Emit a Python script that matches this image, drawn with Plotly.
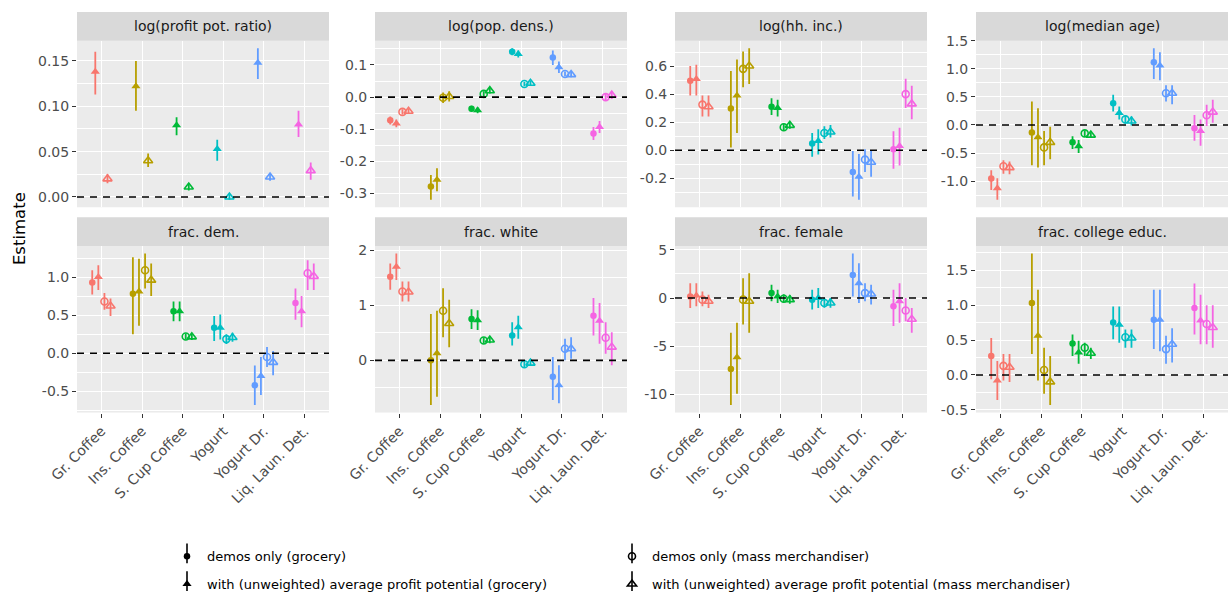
import plotly.graph_objects as go

# ---------------- data ----------------
categories = ["Gr. Coffee", "Ins. Coffee", "S. Cup Coffee", "Yogurt", "Yogurt Dr.", "Liq. Laun. Det."]
series_names = [
    "demos only (grocery)",
    "with (unweighted) average profit potential (grocery)",
    "demos only (mass merchandiser)",
    "with (unweighted) average profit potential (mass merchandiser)",
]
panel_titles = ["log(profit pot. ratio)", "log(pop. dens.)", "log(hh. inc.)", "log(median age)",
                "frac. dem.", "frac. white", "frac. female", "frac. college educ."]
colors = ["#F8766D", "#B79F00", "#00BA38", "#00BFC4", "#619CFF", "#F564E3"]
NA = [None] * 6

# series order inside each panel: demos (grocery), with (grocery), demos (mass), with (mass)
profit_est = [NA, [0.138, 0.122, 0.079, 0.053, 0.148, 0.080], NA, [0.020, 0.040, 0.011, 0.000, 0.022, 0.029]]
profit_lo = [NA, [0.113, 0.095, 0.068, 0.040, 0.130, 0.066], NA, [0.015, 0.033, 0.007, -0.003, 0.018, 0.019]]
profit_hi = [NA, [0.160, 0.150, 0.088, 0.063, 0.164, 0.095], NA, [0.025, 0.048, 0.015, 0.003, 0.026, 0.038]]

dens_est = [[-0.072, -0.278, -0.036, 0.141, 0.123, -0.113], [-0.082, -0.257, -0.041, 0.134, 0.093, -0.093],
            [-0.046, -0.002, 0.010, 0.041, 0.072, 0.000], [-0.044, 0.002, 0.020, 0.043, 0.070, 0.006]]
dens_lo = [[-0.085, -0.319, -0.045, 0.130, 0.100, -0.133], [-0.094, -0.293, -0.050, 0.123, 0.075, -0.112],
           [-0.054, -0.018, 0.002, 0.034, 0.064, -0.012], [-0.052, -0.014, 0.011, 0.036, 0.062, -0.006]]
dens_hi = [[-0.060, -0.242, -0.027, 0.152, 0.145, -0.093], [-0.070, -0.221, -0.032, 0.145, 0.111, -0.074],
           [-0.038, 0.014, 0.018, 0.048, 0.080, 0.012], [-0.036, 0.018, 0.029, 0.050, 0.078, 0.018]]

inc_est = [[0.495, 0.297, 0.309, 0.047, -0.155, 0.007], [0.507, 0.39, 0.30, 0.065, -0.19, 0.03],
           [0.325, 0.58, 0.163, 0.123, -0.067, 0.40], [0.31, 0.60, 0.177, 0.13, -0.086, 0.33]]
inc_lo = [[0.39, 0.02, 0.25, -0.046, -0.33, -0.132], [0.39, 0.123, 0.24, -0.03, -0.353, -0.11],
          [0.24, 0.449, 0.138, 0.08, -0.155, 0.30], [0.24, 0.472, 0.152, 0.09, -0.19, 0.22]]
inc_hi = [[0.60, 0.565, 0.37, 0.123, -0.005, 0.135], [0.61, 0.646, 0.36, 0.15, -0.028, 0.16],
          [0.39, 0.704, 0.188, 0.17, 0.007, 0.51], [0.39, 0.727, 0.202, 0.18, -0.005, 0.46]]

age_est = [[-0.954, -0.135, -0.31, 0.39, 1.12, -0.06], [-1.13, -0.22, -0.38, 0.216, 1.06, -0.105],
           [-0.737, -0.40, -0.15, 0.10, 0.567, 0.175], [-0.76, -0.31, -0.18, 0.07, 0.567, 0.23]]
age_lo = [[-1.158, -0.72, -0.43, 0.24, 0.82, -0.28], [-1.333, -0.76, -0.50, 0.10, 0.80, -0.37],
          [-0.87, -0.72, -0.20, 0.02, 0.42, -0.02], [-0.88, -0.61, -0.23, -0.01, 0.37, 0.04]]
age_hi = [[-0.807, 0.42, -0.20, 0.54, 1.37, 0.18], [-0.95, 0.30, -0.27, 0.33, 1.30, 0.10],
          [-0.63, -0.105, -0.10, 0.18, 0.71, 0.36], [-0.65, -0.03, -0.13, 0.15, 0.71, 0.45]]

dem_est = [[0.93, 0.78, 0.55, 0.336, -0.42, 0.66], [1.0, 0.81, 0.55, 0.336, -0.30, 0.55],
           [0.68, 1.09, 0.22, 0.185, -0.05, 1.05], [0.62, 0.96, 0.215, 0.207, -0.12, 1.01]]
dem_lo = [[0.77, 0.25, 0.42, 0.16, -0.68, 0.44], [0.83, 0.36, 0.42, 0.18, -0.55, 0.34],
          [0.57, 0.85, 0.18, 0.12, -0.18, 0.83], [0.49, 0.75, 0.175, 0.15, -0.29, 0.83]]
dem_hi = [[1.09, 1.26, 0.68, 0.49, -0.16, 0.85], [1.155, 1.24, 0.68, 0.51, -0.05, 0.75],
          [0.79, 1.31, 0.26, 0.25, 0.08, 1.22], [0.72, 1.18, 0.255, 0.27, 0.03, 1.18]]

white_est = [[1.52, 0.0, 0.75, 0.45, -0.30, 0.81], [1.70, 0.13, 0.73, 0.60, -0.45, 0.72],
             [1.25, 0.90, 0.36, -0.07, 0.21, 0.41], [1.24, 0.67, 0.37, -0.05, 0.21, 0.24]]
white_lo = [[1.28, -0.81, 0.57, 0.27, -0.72, 0.45], [1.46, -0.66, 0.55, 0.39, -0.78, 0.30],
            [1.07, 0.42, 0.30, -0.12, 0.0, 0.12], [1.07, 0.24, 0.31, -0.10, 0.03, -0.09]]
white_hi = [[1.76, 0.84, 0.93, 0.69, 0.06, 1.13], [1.94, 0.90, 0.91, 0.81, -0.09, 1.04],
            [1.43, 1.31, 0.42, -0.02, 0.39, 0.69], [1.43, 1.10, 0.43, 0.00, 0.42, 0.51]]

female_est = [[0.17, -7.36, 0.51, -0.17, 2.4, -0.86], [0.27, -6.16, 0.17, 0.0, 1.54, -0.34],
              [-0.17, -0.17, -0.07, -0.51, 0.51, -1.3], [-0.34, -0.34, -0.17, -0.51, 0.41, -2.2]]
female_lo = [[-1.03, -11.1, -0.34, -1.2, 0.17, -2.9], [-0.86, -9.93, -0.51, -1.03, -0.51, -2.57],
             [-0.86, -2.74, -0.5, -1.0, -0.34, -2.4], [-1.03, -3.6, -0.6, -1.0, -0.68, -3.6]]
female_hi = [[1.54, -3.6, 1.37, 0.86, 4.62, 0.86], [1.54, -2.57, 0.86, 1.03, 3.6, 1.54],
             [0.68, 2.05, 0.4, 0.0, 1.54, 0.0], [0.34, 2.57, 0.3, 0.0, 1.37, -1.03]]

college_est = [[0.27, 1.03, 0.45, 0.75, 0.79, 0.96], [-0.08, 0.56, 0.32, 0.72, 0.79, 0.78],
               [0.13, 0.07, 0.39, 0.54, 0.37, 0.73], [0.11, -0.10, 0.31, 0.53, 0.44, 0.68]]
college_lo = [[-0.06, 0.30, 0.27, 0.51, 0.37, 0.58], [-0.36, -0.08, 0.16, 0.46, 0.34, 0.44],
              [-0.08, -0.27, 0.27, 0.39, 0.16, 0.44], [-0.10, -0.43, 0.23, 0.39, 0.18, 0.39]]
college_hi = [[0.53, 1.74, 0.58, 0.98, 1.22, 1.31], [0.20, 1.22, 0.49, 0.98, 1.22, 1.15],
              [0.30, 0.39, 0.46, 0.65, 0.56, 1.0], [0.30, 0.27, 0.39, 0.65, 0.67, 1.0]]

y_tickvals = [[0.0, 0.05, 0.10, 0.15], [-0.3, -0.2, -0.1, 0.0, 0.1], [-0.2, 0.0, 0.2, 0.4, 0.6],
              [-1.0, -0.5, 0.0, 0.5, 1.0, 1.5], [-0.5, 0.0, 0.5, 1.0], [0, 1, 2], [-10, -5, 0, 5],
              [-0.5, 0.0, 0.5, 1.0, 1.5]]
y_ticktext = [["0.00", "0.05", "0.10", "0.15"], ["-0.3", "-0.2", "-0.1", "0.0", "0.1"],
              ["-0.2", "0.0", "0.2", "0.4", "0.6"], ["-1.0", "-0.5", "0.0", "0.5", "1.0", "1.5"],
              ["-0.5", "0.0", "0.5", "1.0"], ["0", "1", "2"], ["-10", "-5", "0", "5"],
              ["-0.5", "0.0", "0.5", "1.0", "1.5"]]

panels = [(profit_est, profit_lo, profit_hi), (dens_est, dens_lo, dens_hi), (inc_est, inc_lo, inc_hi),
          (age_est, age_lo, age_hi), (dem_est, dem_lo, dem_hi), (white_est, white_lo, white_hi),
          (female_est, female_lo, female_hi), (college_est, college_lo, college_hi)]

# ---------------- style ----------------
W, H = 1228, 599
symbols = ["circle", "triangle-up", "circle-open", "triangle-up-open"]
msizes = [6.5, 8, 7, 8]
FONT = "DejaVu Sans"
col_left = [77, 375, 675, 976]
col_w = 252
row_plot = [(41, 209), (248, 416)]
row_strip = [(12, 41), (219, 248)]
DODGE = 0.6

fig = go.Figure()
layout = {}
shapes = []
annotations = []

for p, (est, lo, hi) in enumerate(panels):
    r, c = divmod(p, 4)
    sfx = "" if p == 0 else str(p + 1)
    xa, ya = "x" + sfx, "y" + sfx
    present = [s for s in range(4) if est[s][0] is not None]
    n = len(present)
    step = DODGE / n
    for k, s in enumerate(present):
        off = (k - (n - 1) / 2) * step
        for i in range(6):
            fig.add_trace(go.Scatter(
                x=[i + off], y=[est[s][i]], mode="markers", xaxis=xa, yaxis=ya, showlegend=False,
                marker=dict(symbol=symbols[s], size=msizes[s], color=colors[i],
                            line=dict(width=1.6 if s >= 2 else 0, color=colors[i])),
                error_y=dict(type="data", symmetric=False, array=[hi[s][i] - est[s][i]],
                             arrayminus=[est[s][i] - lo[s][i]], width=0, thickness=1.8, color=colors[i]),
                hoverinfo="skip"))
    vals = [v for s in present for v in lo[s] + hi[s]] + [0.0]
    vmin, vmax = min(vals), max(vals)
    pad = 0.05 * (vmax - vmin)
    yr = [vmin - pad, vmax + pad]
    tv = y_tickvals[p]
    st = tv[1] - tv[0]
    minor_vals = []
    m = tv[0] - st / 2
    while m > yr[0]:
        m -= st
    while m < yr[1]:
        if m > yr[0] and all(abs(m - t) > 1e-9 for t in tv):
            minor_vals.append(m)
        m += st / 2
    x0 = col_left[c] / W
    x1 = (col_left[c] + col_w) / W
    y0 = 1 - row_plot[r][1] / H
    y1 = 1 - row_plot[r][0] / H
    layout["xaxis" + sfx] = dict(
        domain=[x0, x1], anchor=ya, range=[-0.6, 5.6], tickmode="array", tickvals=list(range(6)),
        ticktext=categories, showticklabels=(r == 1), ticks="outside" if r == 1 else "",
        ticklen=4, tickcolor="#333333", tickangle=-45, showgrid=True, gridcolor="white", gridwidth=1.3,
        zeroline=False, showline=False, automargin=False,
        tickfont=dict(family=FONT, size=14, color="#4D4D4D"))
    layout["yaxis" + sfx] = dict(
        domain=[y0, y1], anchor=xa, range=yr, tickmode="array", tickvals=tv, ticktext=y_ticktext[p],
        ticks="outside", ticklen=4, tickcolor="#333333", showgrid=True, gridcolor="white", gridwidth=1.3,
        zeroline=False, showline=False, automargin=False,
        tickfont=dict(family=FONT, size=14, color="#4D4D4D"),
        minor=dict(tickmode="array", tickvals=minor_vals, showgrid=True, gridcolor="white",
                   gridwidth=0.7, ticks=""))
    # zero reference line
    shapes.append(dict(type="line", xref=xa + " domain", yref=ya, x0=0, x1=1, y0=0, y1=0,
                       line=dict(color="black", width=1.6, dash="7px,6px"), layer="above"))
    # facet strip
    sy0 = 1 - row_strip[r][1] / H
    sy1 = 1 - row_strip[r][0] / H
    shapes.append(dict(type="rect", xref="paper", yref="paper", x0=x0, x1=x1, y0=sy0, y1=sy1,
                       fillcolor="#D9D9D9", line=dict(width=0), layer="below"))
    annotations.append(dict(text=panel_titles[p], xref="paper", yref="paper", x=(x0 + x1) / 2,
                            y=(sy0 + sy1) / 2, showarrow=False, xanchor="center", yanchor="middle",
                            font=dict(family=FONT, size=14, color="#1A1A1A")))

annotations.append(dict(text="Estimate", xref="paper", yref="paper", x=19 / W, y=1 - 231 / H,
                        textangle=-90, showarrow=False, xanchor="center", yanchor="middle",
                        font=dict(family=FONT, size=16.5, color="black")))

# legend entries (black keys), one small legend per entry to place them like the reference
leg_keys = ["legend", "legend2", "legend3", "legend4"]
key_xy = [(187, 558), (187, 586), (632, 558), (632, 586)]
for s in range(4):
    fig.add_trace(go.Scatter(
        x=[None], y=[None], mode="markers", name=series_names[s], legend=leg_keys[s],
        marker=dict(symbol=symbols[s], size=msizes[s], color="black",
                    line=dict(width=1.6 if s >= 2 else 0, color="black"))))
leg_layout = {}
for s in range(4):
    kx, ky = key_xy[s]
    leg_layout[leg_keys[s]] = dict(x=(kx - 20) / W, y=1 - (ky + 3) / H, xanchor="left", yanchor="middle",
                                   bgcolor="rgba(0,0,0,0)", borderwidth=0, itemwidth=30,
                                   font=dict(family=FONT, size=13, color="black"))
    # vertical range stroke of the legend key
    shapes.append(dict(type="line", xref="paper", yref="paper", x0=kx / W, x1=kx / W,
                       y0=1 - (ky + 10) / H, y1=1 - (ky - 10) / H,
                       line=dict(color="black", width=1.6), layer="above"))

fig.update_layout(
    template="none",
    width=W, height=H, margin=dict(l=0, r=0, t=0, b=0), paper_bgcolor="white", plot_bgcolor="#EBEBEB",
    shapes=shapes, annotations=annotations, font=dict(family=FONT), **layout, **leg_layout)

fig.write_html("out.html")
